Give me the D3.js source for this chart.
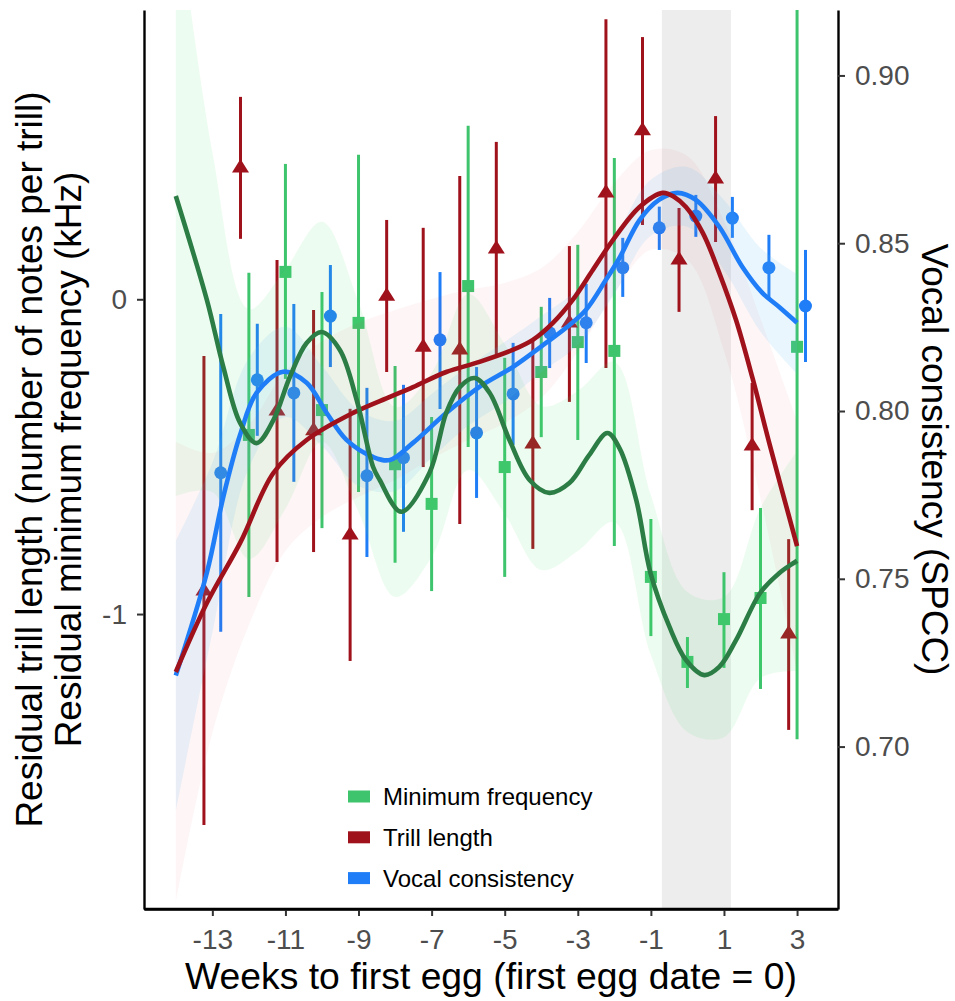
<!DOCTYPE html>
<html><head><meta charset="utf-8">
<script src="https://cdn.jsdelivr.net/npm/d3@7/dist/d3.min.js"></script>
<style>body{margin:0;background:#fff} text{font-family:"Liberation Sans",Arial,Helvetica,sans-serif}</style>
</head><body><svg id="c" width="955" height="1001"></svg>
<script>
// ---------- data ----------
const xTicks = [-13,-11,-9,-7,-5,-3,-1,1,3];
const leftTicks = [-1,0];
const rightTicks = [0.70,0.75,0.80,0.85,0.90];
const seriesNames = ["Minimum frequency","Trill length","Vocal consistency"];

const trillWeeks = [-13,-12,-11,-10,-9,-8,-7,-6,-5,-4,-3,-2,-1,0,1,2,3];
const trillMean = [-0.927,0.417,-0.355,-0.418,-0.749,0.010,-0.152,-0.161,0.160,-0.460,-0.075,0.338,0.535,0.125,0.382,-0.466,-1.063];
const trillHi   = [-0.180,0.643,0.125,-0.034,-0.348,0.252,0.227,0.392,0.500,-0.129,0.169,0.890,0.833,0.290,0.582,-0.266,-0.762];
const trillLo   = [-1.670,0.192,-0.835,-0.803,-1.149,-0.231,-0.533,-0.714,-0.174,-0.793,-0.326,-0.218,0.236,-0.040,0.182,-0.670,-1.368];

const freqWeeks = [-12,-11,-10,-9,-8,-7,-6,-5,-4,-3,-2,-1,0,1,2,3];
const freqMean = [-0.431,0.087,-0.352,-0.075,-0.524,-0.650,0.042,-0.533,-0.231,-0.136,-0.164,-0.882,-1.152,-1.016,-0.949,-0.151];
const freqHi   = [0.084,0.430,0.023,0.459,-0.212,-0.374,0.551,-0.186,-0.024,0.173,0.449,-0.698,-1.073,-0.867,-0.663,1.097];
const freqLo   = [-0.946,-0.253,-0.727,-0.612,-0.837,-0.927,-0.469,-0.882,-0.438,-0.447,-0.784,-1.070,-1.235,-1.171,-1.238,-1.398];

const consWeeks = [-13,-12,-11,-10,-9,-8,-7,-6,-5,-4,-3,-2,-1,0,1,2,3];
const consMean = [0.7816,0.8093,0.8054,0.8283,0.7807,0.7861,0.8212,0.7935,0.8051,0.8233,0.8263,0.8427,0.8546,0.8581,0.8575,0.8427,0.8313];
const consHi   = [0.8289,0.8260,0.8319,0.8435,0.8069,0.8078,0.8414,0.8131,0.8203,0.8337,0.8379,0.8516,0.8609,0.8644,0.8638,0.8525,0.8480];
const consLo   = [0.7342,0.7926,0.7789,0.8131,0.7565,0.7640,0.8006,0.7741,0.7899,0.8128,0.8143,0.8340,0.8480,0.8519,0.8516,0.8331,0.8146];

// smooth fits
const freqFitWeeks = [-14.0,-13.15,-12.7,-12.24,-11.79,-11.33,-10.88,-10.42,-10.01,-9.51,-9.05,-8.6,-8.42,-7.83,-7.06,-6.6,-6.23,-5.82,-5.41,-4.87,-4.32,-3.78,-3.23,-2.69,-2.19,-1.86,-1.40,-1.01,-0.49,-0.04,0.46,0.87,1.33,1.99,2.51,3.0];
const freqFit = [0.328,-0.002,-0.215,-0.393,-0.457,-0.384,-0.247,-0.139,-0.104,-0.161,-0.320,-0.533,-0.574,-0.675,-0.552,-0.361,-0.279,-0.250,-0.298,-0.447,-0.574,-0.615,-0.584,-0.495,-0.425,-0.473,-0.638,-0.870,-1.041,-1.146,-1.194,-1.168,-1.083,-0.933,-0.870,-0.831];

const trillFitWeeks = [-14.0,-13.15,-12.24,-11.33,-10.42,-9.15,-8.14,-7.51,-6.6,-5.69,-4.78,-4.23,-3.68,-3.14,-2.59,-2.04,-1.31,-0.68,-0.36,-0.04,0.42,0.87,1.33,1.78,2.24,3.0];
const trillFit = [-1.184,-0.965,-0.774,-0.552,-0.447,-0.361,-0.310,-0.279,-0.231,-0.199,-0.161,-0.129,-0.075,-0.002,0.093,0.188,0.293,0.338,0.325,0.293,0.211,0.084,-0.066,-0.250,-0.457,-0.784];

const consFitWeeks = [-14.0,-13.15,-12.7,-12.24,-11.79,-11.06,-10.42,-9.87,-9.33,-8.6,-8.14,-7.51,-6.6,-5.69,-4.78,-3.87,-3.32,-2.78,-2.23,-1.86,-1.31,-0.78,-0.27,0.23,0.87,1.5,2.05,2.51,3.0];
const consFit = [0.7212,0.7518,0.7744,0.7929,0.8054,0.8117,0.8084,0.7994,0.7914,0.7863,0.7854,0.7905,0.7994,0.8072,0.8131,0.8203,0.8248,0.8301,0.8391,0.8456,0.8569,0.8629,0.8650,0.8629,0.8549,0.8430,0.8352,0.8310,0.8263];

// confidence bands
const bandWeeks = [-14,-13,-12,-11,-10,-9,-8,-7,-6,-5,-4,-3,-2,-1,0,1,2,3];
const freqBandHi = [1.282,0.468,-0.031,0.096,0.246,-0.009,-0.342,-0.234,0.017,-0.142,-0.339,-0.291,-0.199,-0.622,-0.930,-0.946,-0.663,-0.482];
const freqBandLo = [-0.625,-0.612,-0.825,-0.666,-0.453,-0.676,-0.946,-0.819,-0.542,-0.682,-0.860,-0.800,-0.708,-1.130,-1.375,-1.391,-1.203,-1.181];
const trillBandHi = [-0.453,-0.488,-0.399,-0.228,-0.133,-0.075,-0.034,0.001,0.030,0.052,0.099,0.214,0.370,0.474,0.455,0.249,-0.062,-0.386];
const trillBandLo = [-1.915,-1.378,-1.035,-0.800,-0.692,-0.628,-0.574,-0.507,-0.447,-0.393,-0.314,-0.167,0.020,0.157,0.125,-0.164,-0.634,-1.181];
const consBandHi = [0.7613,0.7845,0.8158,0.8251,0.8134,0.8003,0.7971,0.8051,0.8134,0.8206,0.8283,0.8364,0.8516,0.8689,0.8727,0.8629,0.8486,0.8408];
const consBandLo = [0.6808,0.7339,0.7831,0.7982,0.7896,0.7777,0.7762,0.7860,0.7956,0.8027,0.8116,0.8197,0.8349,0.8522,0.8549,0.8420,0.8236,0.8110];

const shadeWeeks = [-0.7, 1.19];
const dodge = 0.23;

// ---------- styles ----------
const C = {green:"#3ec46d", greenFit:"#2b7d45", red:"#9f121c", blue:"#1f7ef7"};
const L = 144, R = 838, T = 10, B = 909;

const svg = d3.select("#c");
const x = d3.scaleLinear().domain([-14.87, 4.12]).range([L, R]);
const yL = d3.scaleLinear().domain([-1.937, 0.919]).range([B, T]);
const yR = d3.scaleLinear().domain([0.6516, 0.9195]).range([B, T]);

svg.append("defs").append("clipPath").attr("id","clip")
  .append("rect").attr("x",L).attr("y",T).attr("width",R-L).attr("height",B-T);
const plot = svg.append("g").attr("clip-path","url(#clip)");

// shaded period
plot.append("rect").attr("x",x(shadeWeeks[0])).attr("width",x(shadeWeeks[1])-x(shadeWeeks[0]))
  .attr("y",T).attr("height",B-T).attr("fill","#ededed");

// error bars & points
function errs(weeks, lo, hi, off, y, color){
  plot.append("g").selectAll("line").data(weeks).join("line")
    .attr("x1",(d)=>x(d+off)).attr("x2",(d)=>x(d+off))
    .attr("y1",(d,i)=>y(lo[i])).attr("y2",(d,i)=>y(hi[i]))
    .attr("stroke",color).attr("stroke-width",3);
}
errs(trillWeeks, trillLo, trillHi, -dodge, yL, C.red);
errs(freqWeeks, freqLo, freqHi, 0, yL, C.green);
errs(consWeeks, consLo, consHi, dodge, yR, C.blue);

plot.append("g").selectAll("path").data(trillWeeks).join("path")
  .attr("d","M0,-9L8.5,4.5L-8.5,4.5Z")
  .attr("transform",(d,i)=>`translate(${x(d-dodge)},${yL(trillMean[i])})`)
  .attr("fill",C.red);
plot.append("g").selectAll("rect").data(freqWeeks).join("rect")
  .attr("x",(d)=>x(d)-6).attr("y",(d,i)=>yL(freqMean[i])-6).attr("width",12).attr("height",12)
  .attr("fill",C.green);
plot.append("g").selectAll("circle").data(consWeeks).join("circle")
  .attr("cx",(d)=>x(d+dodge)).attr("cy",(d,i)=>yR(consMean[i])).attr("r",6.5)
  .attr("fill",C.blue);

// ribbons
function band(lo, hi, y, color, op){
  const a = d3.area().x((d)=>x(d)).y0((d,i)=>y(lo[i])).y1((d,i)=>y(hi[i])).curve(d3.curveCatmullRom);
  plot.append("path").datum(bandWeeks).attr("d",a).attr("fill",color).attr("opacity",op);
}
band(freqBandLo, freqBandHi, yL, "#4be06f", 0.10);
band(trillBandLo, trillBandHi, yL, "#f03a4c", 0.05);
band(consBandLo, consBandHi, yR, "#5cbcf0", 0.13);

// fitted curves
function fit(weeks, vals, y, color){
  const l = d3.line().x((d)=>x(d)).y((d,i)=>y(vals[i])).curve(d3.curveCatmullRom);
  plot.append("path").datum(weeks).attr("d",l).attr("fill","none")
    .attr("stroke",color).attr("stroke-width",4.6).attr("stroke-linecap","butt");
}
fit(consFitWeeks, consFit, yR, C.blue);
fit(trillFitWeeks, trillFit, yL, C.red);
fit(freqFitWeeks, freqFit, yL, C.greenFit);

// ---------- axes ----------
function styleAxis(g){
  g.select(".domain").attr("stroke","#000").attr("stroke-width",2.4);
  g.selectAll(".tick line").attr("stroke","#333").attr("stroke-width",2);
  g.selectAll(".tick text").attr("fill","#4d4d4d").attr("font-size",28)
    .attr("font-family",'"Liberation Sans",Arial,sans-serif');
}
svg.append("g").attr("transform",`translate(0,${B})`)
  .call(d3.axisBottom(x).tickValues(xTicks).tickFormat((d)=>String(d)).tickSize(7).tickSizeOuter(0).tickPadding(13))
  .call(styleAxis);
svg.append("g").attr("transform",`translate(${L},0)`)
  .call(d3.axisLeft(yL).tickValues(leftTicks).tickFormat((d)=>String(d)).tickSize(7).tickSizeOuter(0).tickPadding(10))
  .call(styleAxis);
svg.append("g").attr("transform",`translate(${R},0)`)
  .call(d3.axisRight(yR).tickValues(rightTicks).tickFormat(d3.format(".2f")).tickSize(7).tickSizeOuter(0).tickPadding(10))
  .call(styleAxis);
svg.append("line").attr("x1",L).attr("x2",R).attr("y1",B).attr("y2",B).attr("stroke","#000").attr("stroke-width",2.4);

// titles
svg.append("text").attr("x",(L+R)/2).attr("y",989).attr("text-anchor","middle")
  .attr("font-size",37.3).attr("fill","#000").text("Weeks to first egg (first egg date = 0)");
svg.append("text").attr("transform",`translate(29,${(T+B)/2}) rotate(-90)`).attr("dy","0.35em")
  .attr("text-anchor","middle").attr("font-size",37).text("Residual trill length (number of notes per trill)");
svg.append("text").attr("transform",`translate(68,${(T+B)/2}) rotate(-90)`).attr("dy","0.35em")
  .attr("text-anchor","middle").attr("font-size",37).text("Residual minimum frequency (kHz)");
svg.append("text").attr("transform",`translate(935,${(T+B)/2}) rotate(90)`).attr("dy","0.35em")
  .attr("text-anchor","middle").attr("font-size",37).text("Vocal consistency (SPCC)");

// legend
const legColors = [C.green, C.red, C.blue];
const leg = svg.append("g");
seriesNames.forEach((n,i)=>{
  const cy = 796.5 + i*40.8;
  leg.append("rect").attr("x",348).attr("y",cy-6).attr("width",22).attr("height",12).attr("fill",legColors[i]);
  leg.append("text").attr("x",383).attr("y",cy).attr("dy","0.35em").attr("font-size",24).text(n);
});
</script></body></html>
